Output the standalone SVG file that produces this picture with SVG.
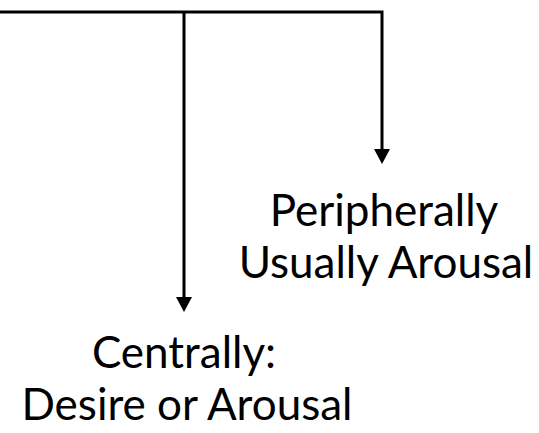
<svg xmlns="http://www.w3.org/2000/svg" width="539" height="433" viewBox="0 0 539 433">
<defs>
<style>
.ln{stroke:#000;stroke-width:3;fill:none}
.hd{fill:#000}
.t{font-family:Lato,"Open Sans","Liberation Sans",sans-serif;font-size:44px;fill:#000;text-anchor:middle}
</style>
</defs>
<rect width="539" height="433" fill="#fff"/>
<g id="connectors">
<path class="ln" d="M0 12 H383.5 M184 12 V298 M382 12 V150"/>
<polygon class="hd" points="176,297 192,297 184,312"/>
<polygon class="hd" points="374,149 390,149 382,164"/>
</g>
<g id="peripheral">
<text class="t" x="384" y="226">Peripherally</text>
<text class="t" x="386" y="278">Usually Arousal</text>
</g>
<g id="central">
<text class="t" x="184" y="368">Centrally:</text>
<text class="t" x="187" y="420">Desire or Arousal</text>
</g>
</svg>
